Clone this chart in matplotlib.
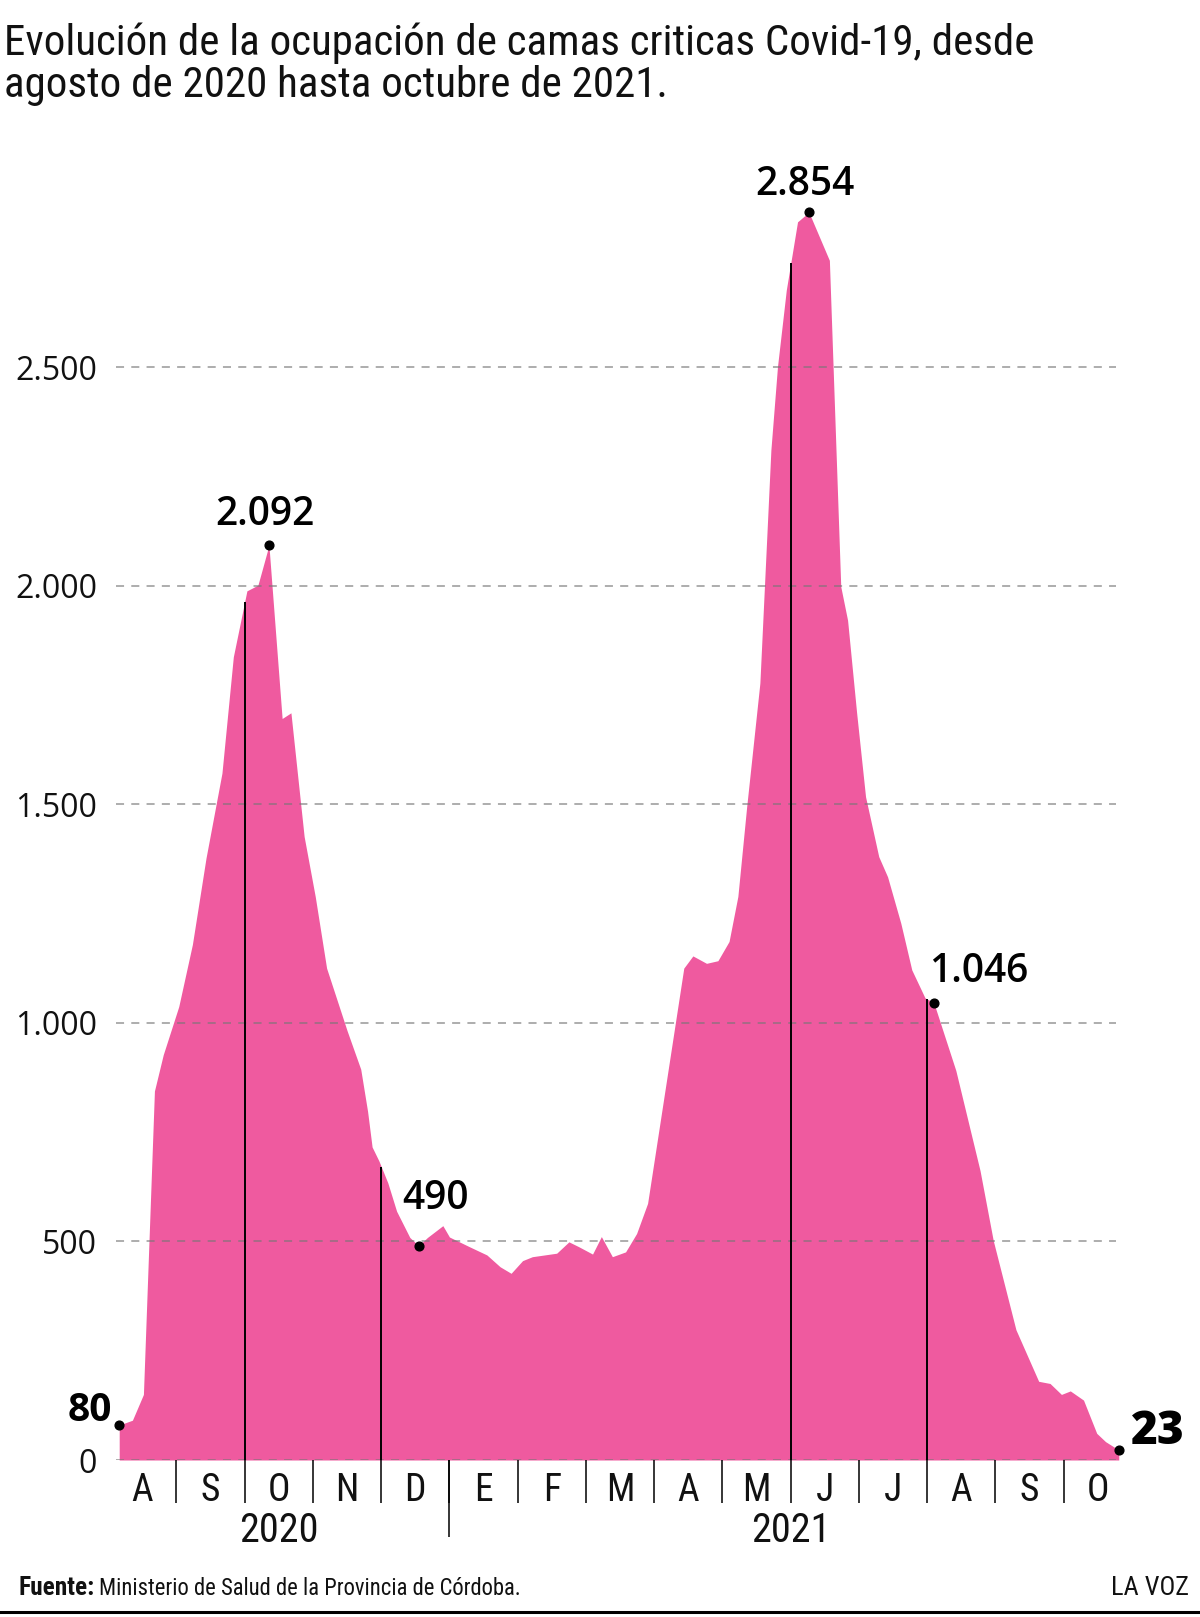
import calendar
import numpy as np
import matplotlib
matplotlib.use("Agg")
import matplotlib.pyplot as plt
from matplotlib import font_manager as fm
from matplotlib.font_manager import FontProperties
from matplotlib.lines import Line2D

# ---------------- data ----------------
dates = [
    "2020-08-06", "2020-08-12", "2020-08-17", "2020-08-22", "2020-08-26",
    "2020-09-02", "2020-09-08", "2020-09-14", "2020-09-21", "2020-09-26",
    "2020-10-02", "2020-10-07", "2020-10-12", "2020-10-18", "2020-10-22", "2020-10-28",
    "2020-11-02", "2020-11-07", "2020-11-16", "2020-11-22", "2020-11-25", "2020-11-27", "2020-11-30",
    "2020-12-04", "2020-12-08", "2020-12-14", "2020-12-18", "2020-12-22", "2020-12-29",
    "2021-01-01", "2021-01-10", "2021-01-18", "2021-01-24", "2021-01-29",
    "2021-02-03", "2021-02-07", "2021-02-17", "2021-02-22", "2021-02-26",
    "2021-03-04", "2021-03-08", "2021-03-13", "2021-03-19", "2021-03-24", "2021-03-29",
    "2021-04-14", "2021-04-18", "2021-04-24", "2021-04-29",
    "2021-05-04", "2021-05-08", "2021-05-12", "2021-05-18", "2021-05-23", "2021-05-26", "2021-05-30",
    "2021-06-04", "2021-06-09", "2021-06-18", "2021-06-23", "2021-06-26", "2021-06-30",
    "2021-07-04", "2021-07-10", "2021-07-14", "2021-07-20", "2021-07-25", "2021-07-31",
    "2021-08-04", "2021-08-14", "2021-08-25", "2021-08-31",
    "2021-09-10", "2021-09-20", "2021-09-25", "2021-09-30",
    "2021-10-04", "2021-10-10", "2021-10-16", "2021-10-20", "2021-10-26",
]
values = [
    80, 91, 150, 844, 927,
    1037, 1179, 1377, 1571, 1837,
    1988, 2001, 2092, 1696, 1709, 1426,
    1289, 1125, 982, 894, 798, 716, 684,
    634, 569, 509, 490, 509, 536,
    510, 488, 469, 442, 427,
    456, 465, 473, 499, 488,
    471, 511, 465, 476, 518, 587,
    1125, 1153, 1136, 1142,
    1186, 1289, 1494, 1777, 2310, 2501, 2676,
    2832, 2854, 2744, 1998, 1921, 1708,
    1517, 1380, 1334, 1228, 1121, 1057,
    1046, 891, 662, 502,
    298, 180, 175, 150,
    158, 137, 61, 42, 23,
]
months = ["A", "S", "O", "N", "D", "E", "F", "M", "A", "M", "J", "J", "A", "S", "O"]
years = ["2020", "2021"]
months_per_year = [5, 10]
marker_months = [2, 4, 10, 12]          # month boundaries with tall reference lines
yticks = [0, 500, 1000, 1500, 2000, 2500]
ytick_labels = ["0", "500", "1.000", "1.500", "2.000", "2.500"]
highlight_dates = ["2020-08-06", "2020-10-12", "2020-12-18", "2021-06-09", "2021-08-04", "2021-10-26"]
highlight_labels = ["80", "2.092", "490", "2.854", "1.046", "23"]

title_lines = ["Evolución de la ocupación de camas criticas Covid-19, desde",
               "agosto de 2020 hasta octubre de 2021."]
source_bold = "Fuente:"
source_text = "Ministerio de Salud de la Provincia de Córdoba."
brand = "LA VOZ"

# ---------------- style ----------------
PINK = "#EF5A9F"
W, H = 1200, 1617
plt.rcParams["lines.scale_dashes"] = False

avail = {f.name for f in fm.fontManager.ttflist}


def pick(*names):
    for n in names:
        if n in avail:
            return n
    return "DejaVu Sans"


SANS = pick("Open Sans", "Noto Sans", "Lato")
FALLBACK = pick("Roboto", "Open Sans")


def _w(f):
    try:
        return int(f.weight)
    except Exception:
        return {"normal": 400, "regular": 400, "bold": 700, "light": 300,
                "medium": 500, "semibold": 600}.get(str(f.weight), 400)


def _is_condensed(f):
    st = f.stretch
    if isinstance(st, (int, float)):
        return st < 500
    return ("Narrow" in f.name or "Condensed" in f.name
            or str(st) in ("condensed", "semi-condensed", "extra-condensed"))


def find_condensed():
    pref = ["Liberation Sans Narrow", "Roboto Condensed", "Open Sans Condensed",
            "Noto Sans", "DejaVu Sans", "Arial Narrow"]
    regs, bolds = {}, {}
    for f in fm.fontManager.ttflist:
        if f.style != "normal" or not _is_condensed(f):
            continue
        w = _w(f)
        if w == 400:
            regs.setdefault(f.name, f.fname)
        elif w == 700:
            bolds.setdefault(f.name, f.fname)
    for n in pref + sorted(regs):
        if n in regs:
            return regs[n], bolds.get(n)
    return None, None


COND_REG, COND_BOLD = find_condensed()


def cond(size, bold=False):
    if bold and COND_BOLD:
        return FontProperties(fname=COND_BOLD, size=size)
    if COND_REG:
        fp = FontProperties(fname=COND_REG, size=size)
        if bold:
            fp.set_weight("bold")
        return fp
    return FontProperties(family=FALLBACK, size=size, weight="bold" if bold else "normal")


def mpos(s):
    y, mo, d = map(int, s.split("-"))
    return (y - 2020) * 12 + (mo - 8) + (d - 1) / calendar.monthrange(y, mo)[1]


x = np.array([mpos(d) for d in dates])
v = np.array(values, dtype=float)

fig = plt.figure(figsize=(W / 100, H / 100), dpi=100)
renderer = fig.canvas.get_renderer()

ax = fig.add_axes([108.2 / W, (H - 1460) / H, 15 * 68.25 / W, 1311.6 / H])
ax.set_xlim(0, len(months))
ax.set_ylim(0, 3000)
for s in ax.spines.values():
    s.set_visible(False)

ax.fill_between(x, v, 0, color=PINK, lw=0, zorder=1)

for yt in yticks:
    ax.plot([0.12, 14.77], [yt, yt], color="#777777", alpha=0.6, lw=1.4,
            dashes=(5.8, 5.2), zorder=2, dash_capstyle="butt")

ax.set_xticks([])
ax.set_yticks(yticks)
ax.set_yticklabels(ytick_labels, fontfamily=SANS, fontsize=23, color="#111111")
ax.tick_params(axis="y", length=0, pad=8)

# tall reference lines at selected month starts
ax.vlines(marker_months, 0, np.interp(marker_months, x, v), colors="black", lw=1.4, zorder=3)

# month separators and labels
ax.vlines(np.arange(1, len(months)), -98, 0, colors="black", lw=1.1, clip_on=False)
ax.vlines([months_per_year[0]], -176, 0, colors="black", lw=1.1, clip_on=False)
month_fp = cond(27) if COND_REG else FontProperties(family=SANS, size=24)
for i, m in enumerate(months):
    ax.text(i + 0.5, -69, m, ha="center", va="center", fontproperties=month_fp,
            color="#111111", clip_on=False)
year_fp = cond(29) if COND_REG else FontProperties(family=FALLBACK, size=26)
start = 0
for yname, n in zip(years, months_per_year):
    ax.text(start + n / 2, -162, yname, ha="center", va="center", fontproperties=year_fp,
            color="#111111", clip_on=False)
    start += n

# highlighted points
lookup = dict(zip(dates, values))
hx = [mpos(d) for d in highlight_dates]
hv = [lookup[d] for d in highlight_dates]
ax.plot(hx, hv, "o", color="black", ms=6.3, zorder=5, clip_on=False)

offsets = {
    "80": ((-5, 3.2), "right", "bold", 28),
    "2.092": ((-2.9, 14.4), "center", "semibold", 28),
    "490": ((-12, 26.3), "left", "semibold", 28),
    "2.854": ((-2.9, 12.2), "center", "semibold", 28),
    "1.046": ((-3.6, 15.1), "left", "semibold", 28),
    "23": ((8.6, 4), "left", "heavy", 33),
}
for lab, px, py in zip(highlight_labels, hx, hv):
    (dx, dy), ha, wt, fs = offsets[lab]
    ax.annotate(lab, xy=(px, py), xytext=(dx, dy), textcoords="offset points",
                ha=ha, va="baseline", fontsize=fs, fontweight=wt, family=SANS,
                color="black", annotation_clip=False, zorder=6)


# ---------------- texts ----------------
def fit_text(xpx, ypx, s, fp, target_w, **kw):
    t = fig.text(xpx / W, 1 - ypx / H, s, fontproperties=fp, va="baseline", **kw)
    w = t.get_window_extent(renderer).width
    if w > 0:
        fp2 = fp.copy()
        fp2.set_size(fp.get_size() * target_w / w)
        t.set_fontproperties(fp2)
    return t


t1 = fit_text(4, 55, title_lines[0], cond(32), 1034, color="#111111")
title_fp = t1.get_fontproperties()
fig.text(4 / W, 1 - 97 / H, title_lines[1], fontproperties=title_fp, va="baseline", color="#111111")

tb = fit_text(18, 1595, source_bold, cond(18, bold=True), 76, color="#111111")
bw = tb.get_window_extent(renderer).x1
fit_text(bw + 5, 1595, source_text, cond(18), 423, color="#111111")
fig.text(1189 / W, 1 - 1595 / H, brand, fontproperties=cond(19), ha="right", va="baseline",
         color="#111111")

fig.add_artist(Line2D([0, 1], [1 - 1612 / H] * 2, color="black", lw=2.2))

fig.savefig("out.png", dpi=100, facecolor="white")
